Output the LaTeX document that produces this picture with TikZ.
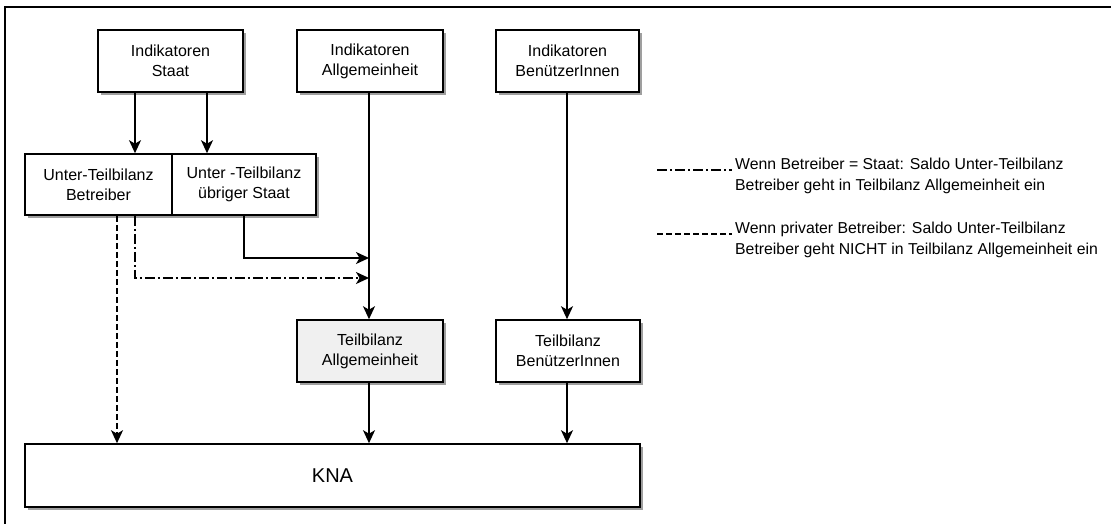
\documentclass[tikz,border=0pt]{standalone}
\usepackage{fontspec}
\setmainfont{Liberation Sans}
\usetikzlibrary{arrows.meta,shadows}
\begin{document}
\begin{tikzpicture}[x=1pt,y=-1pt,
  box/.style={draw, line width=1.6pt, fill=white, inner sep=0pt, align=center,
    font=\fontsize{16}{20}\selectfont,
    drop shadow={shadow xshift=3pt, shadow yshift=-3pt, fill=gray!75, opacity=1}},
  conn/.style={line width=1.6pt, -{Stealth[length=13pt,width=12pt,inset=3.5pt]}},
  dashdot/.style={dash pattern=on 10pt off 3pt on 2pt off 3pt},
  dashline/.style={dash pattern=on 6pt off 3pt},
  legtext/.style={anchor=base west, inner sep=0pt, font=\fontsize{15.8}{19}\selectfont}
]
\useasboundingbox (0,0) rectangle (1111,523);
\clip (0,0) rectangle (1111,523);
\draw[line width=1.6pt] (5,540) -- (5,7) -- (1130,7);

\node[box, minimum width=145pt, minimum height=62pt] (indS) at (170.5,61) {Indikatoren\\Staat};
\node[box, minimum width=146pt, minimum height=62pt] (indA) at (370,61) {Indikatoren\\Allgemeinheit};
\node[box, minimum width=143pt, minimum height=62pt] (indB) at (567.5,61) {Indikatoren\\BenützerInnen};

\node[box, minimum width=147pt, minimum height=61pt] (utb) at (98.5,184.5) {Unter-Teilbilanz\\Betreiber};
\node[box, minimum width=144pt, minimum height=61pt] (uts) at (244,184.5) {Unter -Teilbilanz\\übriger Staat};

\node[box, minimum width=146pt, minimum height=62pt, fill=gray!12] (ta) at (370,351) {Teilbilanz\\Allgemeinheit};
\node[box, minimum width=144pt, minimum height=62pt] (tb) at (568,351) {Teilbilanz\\BenützerInnen};

\node[box, minimum width=615pt, minimum height=63pt, font=\fontsize{20}{24}\selectfont] (kna) at (332.5,475.5) {KNA};

\coordinate (j1) at (369,258);
\coordinate (j2) at (369,278);

\draw[conn] (indS.south -| 135,0) -- (utb.north -| 135,0);
\draw[conn] (indS.south -| 207,0) -- (uts.north -| 207,0);
\draw[conn] (indA.south -| 369,0) -- (ta.north -| 369,0);
\draw[conn] (indB.south -| 567,0) -- (tb.north -| 567,0);
\draw[conn] (uts.south) |- (j1);
\draw[conn, dashdot] (utb.south -| 135,0) |- (j2);
\draw[conn, dashline] (utb.south -| 117,0) -- (kna.north -| 117,0);
\draw[conn] (ta.south -| 369,0) -- (kna.north -| 369,0);
\draw[conn] (tb.south -| 567,0) -- (kna.north -| 567,0);

\coordinate (l1a) at (657,170);
\coordinate (l1b) at (732,170);
\coordinate (l2a) at (657,234);
\coordinate (l2b) at (732,234);
\draw[line width=1.1pt, dashdot] (l1a) -- (l1b);
\draw[line width=1.1pt, dashline] (l2a) -- (l2b);
\node[legtext] (leg1a) at (735,169) {Wenn Betreiber = Staat: Saldo Unter-Teilbilanz};
\node[legtext] (leg1b) at (735,190) {Betreiber geht in Teilbilanz Allgemeinheit ein};
\node[legtext] (leg2a) at (735,233) {Wenn privater Betreiber: Saldo Unter-Teilbilanz};
\node[legtext] (leg2b) at (735,254) {Betreiber geht NICHT in Teilbilanz Allgemeinheit ein};
\end{tikzpicture}
\end{document}
